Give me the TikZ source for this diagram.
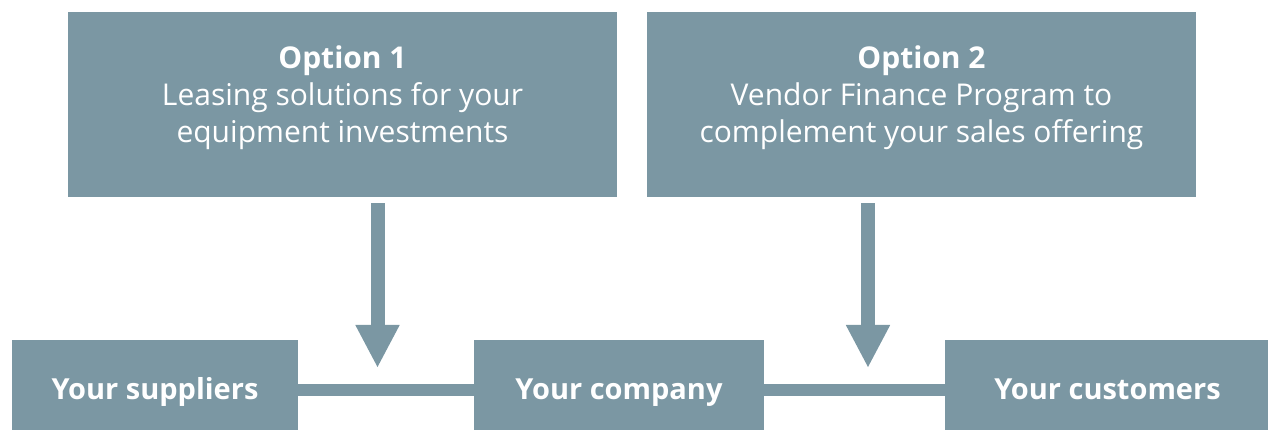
\documentclass[tikz,border=0pt]{standalone}
\usepackage{fontspec}
\setmainfont{Open Sans}
\usetikzlibrary{arrows.meta}
\definecolor{slate}{RGB}{123,151,163}
\tikzset{
  optbox/.style={fill=slate, draw=none, minimum width=549pt,
    minimum height=185pt, inner sep=0pt},
  opttext/.style={text=white, align=center, inner sep=0pt,
    font=\fontsize{30}{37}\selectfont},
  partybox/.style={fill=slate, draw=none, text=white, minimum height=100pt,
    inner sep=0pt, text height=21pt, text depth=1pt,
    font=\fontsize{29}{34}\selectfont\bfseries},
  link/.style={draw=slate, line width=12pt},
  feed/.style={draw=slate, line width=14pt,
    -{Triangle[width=41pt,length=43pt]}, shorten <=6pt}
}
\begin{document}
\begin{tikzpicture}[x=1pt,y=1pt]
  \useasboundingbox (0,0) rectangle (1268,430);

  % financing options
  \node[optbox] (opt1) at (342.5,325.5) {};
  \node[optbox] (opt2) at (921.5,325.5) {};
  \node[opttext] (opt1text) at (342.5,332.5)
    {\textbf{Option 1}\\Leasing solutions for your\\equipment investments};
  \node[opttext] (opt2text) at (921.5,332.5)
    {\textbf{Option 2}\\Vendor Finance Program to\\complement your sales offering};

  % supply chain
  \node[partybox, minimum width=286pt] (sup)  at (155,40)   {Your suppliers};
  \node[partybox, minimum width=290pt] (comp) at (619,40)   {Your company};
  \node[partybox, minimum width=325pt] (cust) at (1107.5,40) {Your customers};

  \draw[link] (sup.east) -- (comp.west);
  \draw[link] (comp.east) -- (cust.west);

  % arrows pointing at the links
  \coordinate (tip1) at (377.5,62);
  \coordinate (tip2) at (868,62);
  \draw[feed] (opt1.south -| tip1) -- (tip1);
  \draw[feed] (opt2.south -| tip2) -- (tip2);
\end{tikzpicture}
\end{document}
